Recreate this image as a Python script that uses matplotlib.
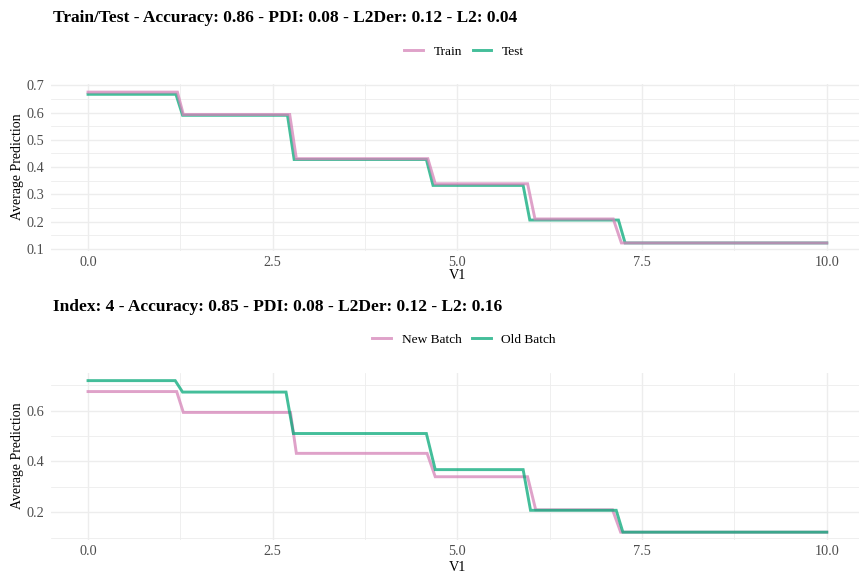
import matplotlib
matplotlib.use("Agg")
import matplotlib.pyplot as plt
import numpy as np

# values (vertices of each step line)
train_x = [0.0, 1.21, 1.29, 2.73, 2.82, 4.60, 4.70, 5.95, 6.05, 7.11, 7.22, 10.0]
train_y = [0.675, 0.675, 0.593, 0.593, 0.431, 0.431, 0.339, 0.339, 0.210, 0.210, 0.122, 0.122]
test_x = [0.0, 1.19, 1.28, 2.70, 2.79, 4.58, 4.67, 5.89, 5.98, 7.18, 7.27, 10.0]
test_y = [0.667, 0.667, 0.590, 0.590, 0.428, 0.428, 0.333, 0.333, 0.206, 0.206, 0.122, 0.122]

new_x = [0.0, 1.20, 1.29, 2.74, 2.82, 4.59, 4.70, 5.95, 6.06, 7.10, 7.21, 10.0]
new_y = [0.675, 0.675, 0.593, 0.593, 0.432, 0.432, 0.340, 0.340, 0.210, 0.210, 0.122, 0.122]
old_x = [0.0, 1.18, 1.28, 2.68, 2.78, 4.58, 4.70, 5.89, 5.99, 7.15, 7.24, 10.0]
old_y = [0.718, 0.718, 0.673, 0.673, 0.510, 0.510, 0.368, 0.368, 0.208, 0.208, 0.122, 0.122]

top_title = "Train/Test - Accuracy: 0.86 - PDI: 0.08 - L2Der: 0.12 - L2: 0.04"
bottom_title = "Index: 4 - Accuracy: 0.85 - PDI: 0.08 - L2Der: 0.12 - L2: 0.16"

x_ticks = [0.0, 2.5, 5.0, 7.5, 10.0]
x_minor = [1.25, 3.75, 6.25, 8.75]

PINK = "#D583B8"
GREEN = "#05A878"
ALPHA = 0.75
GRID = "#EDEDED"
TICKCOL = "#4D4D4D"

plt.rcParams['font.family'] = ['Liberation Serif', 'DejaVu Serif']

W, H = 859, 577
fig = plt.figure(figsize=(W / 100, H / 100), dpi=100)


def px_axes(left, top, width, height):
    # pixel box (from top-left) -> figure fraction
    return fig.add_axes([left / W, (H - top - height) / H, width / W, height / H])


def style(ax, yticks, yminor, ylim):
    ax.set_xlim(-0.5, 10.5)
    ax.set_ylim(*ylim)
    ax.set_xticks(x_ticks)
    ax.set_xticklabels([f"{v:.1f}" for v in x_ticks])
    ax.set_xticks(x_minor, minor=True)
    ax.set_yticks(yticks)
    ax.set_yticklabels([f"{v:.1f}" for v in yticks])
    ax.set_yticks(yminor, minor=True)
    ax.grid(True, which="major", color=GRID, linewidth=1.0)
    ax.grid(True, which="minor", color=GRID, linewidth=0.6)
    ax.set_axisbelow(True)
    for s in ax.spines.values():
        s.set_visible(False)
    ax.tick_params(which="both", length=0, labelsize=10.3, labelcolor=TICKCOL)
    ax.tick_params(axis="y", pad=5)
    ax.tick_params(axis="x", pad=4)
    ax.set_xlabel("V1", fontsize=10.3, va="center")


# top panel: Train / Test
ax1 = px_axes(51.1, 84.2, 812.6, 166.4)
l_test, = ax1.plot(test_x, test_y, color=GREEN, alpha=ALPHA, lw=2.1, solid_joinstyle="miter")
l_train, = ax1.plot(train_x, train_y, color=PINK, alpha=ALPHA, lw=2.1, solid_joinstyle="miter")
style(ax1, [0.1, 0.2, 0.3, 0.4, 0.5, 0.6, 0.7], [0.15, 0.25, 0.35, 0.45, 0.55, 0.65], (0.094, 0.704))
ax1.xaxis.set_label_coords(0.5, -0.148)
fig.text(18 / W, (H - 167) / H, "Average Prediction", rotation=90, ha="center", va="center", fontsize=10)
fig.text(53 / W, (H - 22) / H, top_title, fontsize=12.5, fontweight="bold", va="baseline")
ax1.legend([l_train, l_test], ["Train", "Test"], loc="center", ncol=2, frameon=False,
           bbox_to_anchor=(464 / W, (H - 51.7) / H), bbox_transform=fig.transFigure,
           fontsize=9.6, handlelength=1.4, handletextpad=0.8, columnspacing=0.8)

# bottom panel: New Batch / Old Batch
ax2 = px_axes(51.1, 373.0, 812.6, 166.8)
l_new, = ax2.plot(new_x, new_y, color=PINK, alpha=ALPHA, lw=2.1, solid_joinstyle="miter")
l_old, = ax2.plot(old_x, old_y, color=GREEN, alpha=ALPHA, lw=2.1, solid_joinstyle="miter")
style(ax2, [0.2, 0.4, 0.6], [0.1, 0.3, 0.5, 0.7], (0.092, 0.748))
ax2.xaxis.set_label_coords(0.5, -0.165)
fig.text(18 / W, (H - 456) / H, "Average Prediction", rotation=90, ha="center", va="center", fontsize=10)
fig.text(53 / W, (H - 310.7) / H, bottom_title, fontsize=12.5, fontweight="bold", va="baseline")
ax2.legend([l_new, l_old], ["New Batch", "Old Batch"], loc="center", ncol=2, frameon=False,
           bbox_to_anchor=(464 / W, (H - 340) / H), bbox_transform=fig.transFigure,
           fontsize=9.6, handlelength=1.4, handletextpad=0.8, columnspacing=0.8)

fig.savefig("out.png", dpi=100, facecolor="white")
